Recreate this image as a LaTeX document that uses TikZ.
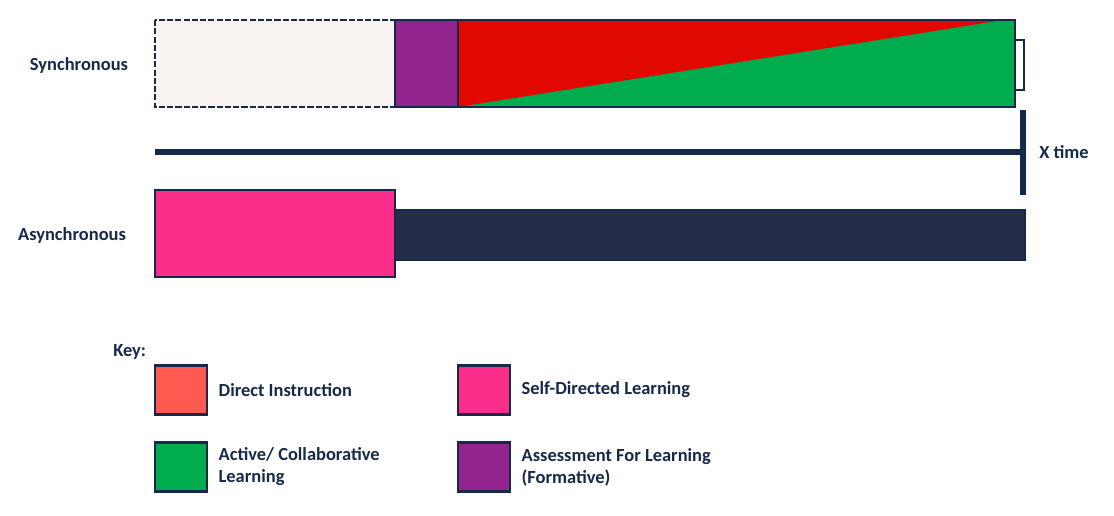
\documentclass[tikz,border=0pt]{standalone}
\usepackage{fontspec}
\setmainfont{Carlito}
\usetikzlibrary{positioning}
\definecolor{navy}{HTML}{15294A}
\definecolor{dirred}{HTML}{E00800}
\definecolor{keyred}{HTML}{FF5A52}
\definecolor{actgreen}{HTML}{00AC4E}
\definecolor{afpurple}{HTML}{93238D}
\definecolor{sdpink}{HTML}{FB2E8C}
\definecolor{asyncbar}{HTML}{252D48}
\definecolor{offwhite}{HTML}{F9F4F1}

\begin{document}
\begin{tikzpicture}[
  x=0.02cm, y=-0.02cm,
  every node/.style={font=\bfseries\fontsize{10.5}{12.5}\selectfont, text=navy},
  block/.style={draw=navy, line width=1.5pt},
  keybox/.style={draw=navy, line width=1.5pt, minimum width=1.04cm, minimum height=0.98cm, inner sep=0pt},
  keytext/.style={anchor=west, align=left, inner sep=0pt},
  axis/.style={draw=navy, line width=3.8pt}
]
\useasboundingbox (0,0) rectangle (1114,515);

% synchronous row
\draw[block, dash pattern=on 3.5pt off 1.2pt, fill=offwhite] (155,20) rectangle (395,107);
\draw[block, fill=afpurple] (395,20) rectangle (458,107);
\fill[actgreen] (458,20) rectangle (1015,107);
\fill[dirred] (458,20) -- (1003,20) -- (458,107) -- cycle;
\draw[block] (458,20) rectangle (1015,107);
\draw[draw=navy, line width=1.2pt] (1015,40) -| (1024,90) -- (1015,90);
\node (sync) at (79,65) {Synchronous};

% time axis
\coordinate (t0) at (155,152);
\coordinate (t1) at (1023,152);
\coordinate (ttop) at (1023,110);
\coordinate (tbot) at (1023,195);
\draw[axis] (t0) -- (t1);
\draw[axis] (ttop) -- (tbot);
\node[right=0.32cm of t1, keytext] (xtime) {X time};

% asynchronous row
\draw[block, fill=asyncbar] (395,210) rectangle (1025,260);
\draw[block, fill=sdpink] (155,190) rectangle (395,277);
\node (async) at (72,235) {Asynchronous};

% key
\node[keytext] (key) at (113,352) {Key:};
\node[keybox, fill=keyred] (kdi) at (181,390) {};
\node[keybox, fill=actgreen] (kal) at (181,467) {};
\node[keybox, fill=sdpink] (ksd) at (484,390) {};
\node[keybox, fill=afpurple] (kaf) at (484,467) {};
\node[keytext, right=0.2cm of kdi] (tdi) {Direct Instruction};
\node[keytext, right=0.2cm of kal] (tal) {Active/ Collaborative\\Learning};
\node[keytext, right=0.2cm of ksd] (tsd) {Self-Directed Learning};
\node[keytext, right=0.2cm of kaf] (taf) {Assessment For Learning\\(Formative)};
\end{tikzpicture}
\end{document}
